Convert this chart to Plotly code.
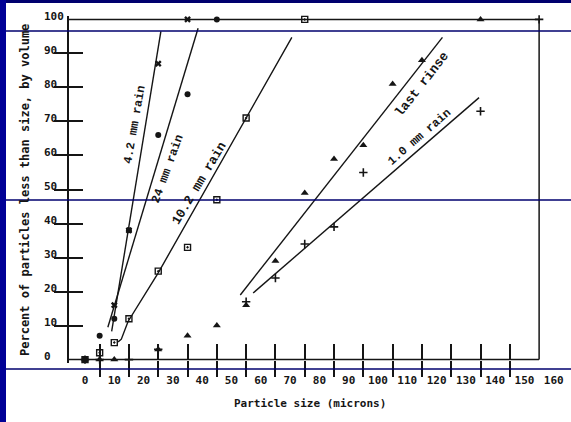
import plotly.graph_objects as go

# ---------------- data ----------------
x_tick_labels = list(range(0, 161, 10))      # labelled sizes (microns)
x_tick_marks = list(range(5, 146, 10))       # sieve tick marks
y_tick_labels = list(range(0, 101, 10))
y_tick_marks = list(range(10, 91, 10))

size_42 = [0, 10, 15, 25, 35]
pct_42 = [0, 16, 38, 87, 100]

size_24 = [0, 5, 10, 15, 25, 35, 45]
pct_24 = [0, 7, 12, 38, 66, 78, 100]

size_102 = [0, 5, 10, 15, 25, 35, 45, 55, 75]
pct_102 = [0, 2, 5, 12, 26, 33, 47, 71, 100]

size_rinse = [5, 10, 25, 35, 45, 55, 65, 75, 85, 95, 105, 115, 135]
pct_rinse = [0, 0, 3, 7, 10, 16, 29, 49, 59, 63, 81, 88, 100]

size_10 = [0, 5, 15, 25, 55, 65, 75, 85, 95, 135, 155]
pct_10 = [0, 0, 0, 3, 17, 24, 34, 39, 55, 73, 100]

# fitted lines
fit_42_x = [9.1, 25.9]
fit_42_y = [8.3, 96.5]
fit_24_x = [7.8, 38.6]
fit_24_y = [9.5, 97.4]
fit_102_x = [11.3, 12.4, 14.7, 25, 70.6]
fit_102_y = [5.2, 6.0, 11.2, 25.5, 94.7]
fit_rinse_x = [53, 122]
fit_rinse_y = [19, 94.7]
fit_10_x = [57.4, 134.5]
fit_10_y = [19.6, 77]

curve_names = ["4.2 mm rain", "24 mm rain", "10.2 mm rain", "last rinse", "1.0 mm rain"]

# ---------------- geometry ----------------
W, H = 571, 422
ML, MR, MT, MB = 69, 2, 16, 59
X_MIN, X_MAX = -5.46, 165.2
Y_MIN, Y_MAX = -1, 101
FRAME_RIGHT = 155
INK = "#151515"
MONO = "DejaVu Sans Mono"


def px_x(px):
    return (px - ML) / (W - ML - MR)


def px_y(py):
    return (H - MB - py) / (H - MT - MB)


y0_pos = (0 - Y_MIN) / (Y_MAX - Y_MIN)

fig = go.Figure()

line_style = dict(color=INK, width=1.4)
for fx, fy in [(fit_42_x, fit_42_y), (fit_24_x, fit_24_y), (fit_102_x, fit_102_y),
               (fit_rinse_x, fit_rinse_y), (fit_10_x, fit_10_y)]:
    fig.add_trace(go.Scatter(x=fx, y=fy, mode="lines", line=line_style,
                             showlegend=False, hoverinfo="skip"))

series = [
    (size_42, pct_42, dict(symbol="x", size=6, color=INK, line=dict(width=0))),
    (size_24, pct_24, dict(symbol="circle", size=6, color=INK)),
    (size_102, pct_102, dict(symbol="square-open-dot", size=6, color=INK, line=dict(width=1.4, color=INK))),
    (size_rinse, pct_rinse, dict(symbol="triangle-up", size=7, color=INK)),
    (size_10, pct_10, dict(symbol="cross-thin", size=6, color=INK, line=dict(width=1.6, color=INK))),
]
for (sx, sy, mk), name in zip(series, curve_names):
    fig.add_trace(go.Scatter(x=sx, y=sy, mode="markers", marker=mk, name=name,
                             showlegend=False, cliponaxis=False))

# dummy traces so overlay axes render
fig.add_trace(go.Scatter(x=[None], y=[None], xaxis="x2", yaxis="y", showlegend=False))
fig.add_trace(go.Scatter(x=[None], y=[None], xaxis="x3", yaxis="y", showlegend=False))
fig.add_trace(go.Scatter(x=[None], y=[None], xaxis="x", yaxis="y2", showlegend=False))

common_x = dict(range=[X_MIN, X_MAX], showgrid=False, zeroline=False, fixedrange=True)
common_y = dict(range=[Y_MIN, Y_MAX], showgrid=False, zeroline=False, fixedrange=True)

fig.update_layout(
    width=W, height=H, autosize=False,
    margin=dict(l=ML, r=MR, t=MT, b=MB, pad=0),
    paper_bgcolor="white", plot_bgcolor="white",
    xaxis=dict(**common_x, anchor="free", position=y0_pos, tickmode="array",
               tickvals=x_tick_labels, ticktext=[str(v) for v in x_tick_labels],
               ticks="", showline=False, ticklabelstandoff=12,
               tickfont=dict(family=MONO, size=11, color=INK, weight="bold")),
    xaxis2=dict(**common_x, overlaying="x", anchor="free", position=y0_pos,
                tickmode="array", tickvals=x_tick_marks, ticks="outside", ticklen=16,
                tickwidth=1.5, tickcolor=INK, showticklabels=False, showline=False),
    xaxis3=dict(**common_x, overlaying="x", anchor="free", position=y0_pos,
                tickmode="array", tickvals=x_tick_marks, ticks="inside", ticklen=16,
                tickwidth=1.5, tickcolor=INK, showticklabels=False, showline=False),
    yaxis=dict(**common_y, tickmode="array", tickvals=y_tick_marks, ticks="outside",
               ticklen=13, tickwidth=1.5, tickcolor=INK, showticklabels=False,
               showline=True, linecolor=INK, linewidth=1.5),
    yaxis2=dict(**common_y, overlaying="y", anchor="x", side="left", tickmode="array",
                tickvals=y_tick_marks, ticks="inside", ticklen=14, tickwidth=1.5,
                tickcolor=INK, showticklabels=False, showline=False),
)

# frame (top, bottom, right)
frame = dict(type="line", xref="x", yref="y", line=dict(color=INK, width=1.5), layer="below")
fig.add_shape(**frame, x0=X_MIN, x1=FRAME_RIGHT, y0=100, y1=100)
fig.add_shape(**frame, x0=X_MIN, x1=FRAME_RIGHT, y0=0, y1=0)
fig.add_shape(**frame, x0=FRAME_RIGHT, x1=FRAME_RIGHT, y0=0, y1=100)

# slide decorations
NAVY = "#00006e"
fig.add_shape(type="rect", xref="paper", yref="paper", x0=px_x(0), x1=px_x(W), y0=px_y(0), y1=px_y(3),
              fillcolor=NAVY, line=dict(width=0))
fig.add_shape(type="rect", xref="paper", yref="paper", x0=px_x(0), x1=px_x(6), y0=px_y(0), y1=px_y(H),
              fillcolor="#000096", line=dict(width=0))
for py in [31, 200, 369]:
    fig.add_shape(type="line", xref="paper", yref="paper", x0=px_x(6), x1=px_x(W), y0=px_y(py), y1=px_y(py),
                  line=dict(color=NAVY, width=1.3))

# y tick labels (left aligned)
for v in y_tick_labels:
    fig.add_annotation(x=px_x(42), xref="paper", y=v, yref="y", text=str(v), showarrow=False,
                       xanchor="left", yanchor="middle", yshift=3,
                       font=dict(family=MONO, size=11, color=INK, weight="bold"))

# axis titles
fig.add_annotation(x=px_x(310), y=px_y(403), xref="paper", yref="paper",
                   xanchor="center", yanchor="middle",
                   text="Particle size (microns)", showarrow=False,
                   font=dict(family=MONO, size=11, color=INK, weight="bold"))
fig.add_annotation(x=px_x(25), y=px_y(190), xref="paper", yref="paper", textangle=-90,
                   xanchor="center", yanchor="middle",
                   text="Percent of particles less than size, by volume", showarrow=False,
                   font=dict(family=MONO, size=12, color=INK, weight="bold"))

# curve labels
label_pos = [(17.1, 68.9, -80, 12), (28.3, 56.0, -70, 12), (38.9, 51.9, -59, 13),
             (115.0, 80.9, -52, 13), (114.3, 65.4, -41, 12)]
for name, (lx, ly, ang, fs) in zip(curve_names, label_pos):
    fig.add_annotation(x=lx, y=ly, xref="x", yref="y", text=name, showarrow=False,
                       xanchor="center", yanchor="middle",
                       textangle=ang, font=dict(family="Liberation Mono", size=fs, color=INK, weight="bold"))

fig.write_html("out.html", config={"displayModeBar": False},
               post_script="document.body.style.margin='0';")
